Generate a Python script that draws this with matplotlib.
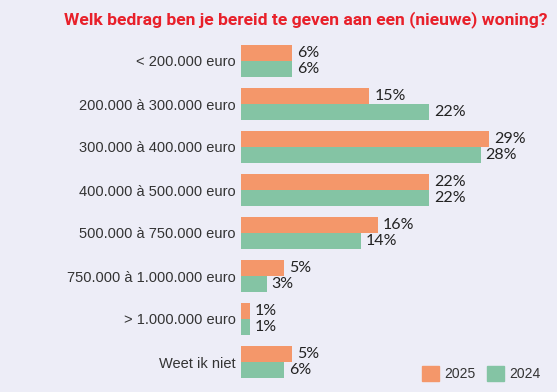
import matplotlib
matplotlib.use('Agg')
import matplotlib.pyplot as plt
from matplotlib import font_manager
from matplotlib.patches import Patch

# Data (bar lengths as drawn; labels as printed in the source chart)
categories = ['< 200.000 euro', '200.000 à 300.000 euro', '300.000 à 400.000 euro',
              '400.000 à 500.000 euro', '500.000 à 750.000 euro', '750.000 à 1.000.000 euro',
              '> 1.000.000 euro', 'Weet ik niet']
values_2025 = [6, 15, 29, 22, 16, 5, 1, 6]
values_2024 = [6, 22, 28, 22, 14, 3, 1, 5]
labels_2025 = ['6%', '15%', '29%', '22%', '16%', '5%', '1%', '5%']
labels_2024 = ['6%', '22%', '28%', '22%', '14%', '3%', '1%', '6%']

bg = '#EDEDF7'
orange = '#F4976A'
green = '#84C4A4'

names = {f.name for f in font_manager.fontManager.ttflist}
title_font = 'Liberation Sans Narrow' if 'Liberation Sans Narrow' in names else 'Roboto'

fig = plt.figure(figsize=(5.57, 3.92), dpi=100, facecolor=bg)
ax = fig.add_axes([241 / 557, 1 - 383.5 / 392, 308 / 557, 344 / 392], facecolor=bg)

h = 0.37
y = list(range(len(categories)))
y_top = [i - h / 2 for i in y]
y_bot = [i + h / 2 for i in y]
b1 = ax.barh(y_top, values_2025, height=h, color=orange)
b2 = ax.barh(y_bot, values_2024, height=h, color=green)

for bars, labs in ((b1, labels_2025), (b2, labels_2024)):
    for bar, lab in zip(bars, labs):
        ax.annotate(lab, (bar.get_width(), bar.get_y() + bar.get_height() / 2),
                    xytext=(3.5, 0), textcoords='offset points', va='center', ha='left',
                    fontsize=11.5, color='#222222', family='Lato')

ax.set_xlim(0, 36)
ax.set_ylim(7.5, -0.5)
ax.set_yticks(y)
ax.set_yticklabels(categories, fontsize=10.5, color='#333333', family='Liberation Sans')
ax.tick_params(axis='y', length=0, pad=4)
ax.set_xticks([])
for s in ax.spines.values():
    s.set_visible(False)

fig.text(548 / 557, 1 - 20 / 392, 'Welk bedrag ben je bereid te geven aan een (nieuwe) woning?',
         ha='right', va='center', fontsize=12.6, fontweight='bold', color='#E8202A',
         family=title_font)

handles = [Patch(color=orange, label='2025'), Patch(color=green, label='2024')]
fig.legend(handles=handles, loc='lower right', bbox_to_anchor=(553 / 557, -2 / 392), ncol=2,
           frameon=False, handlelength=1.2, handleheight=1.3,
           columnspacing=0.8, handletextpad=0.4,
           prop={'family': 'Liberation Sans', 'size': 10},
           labelcolor='#333333')

fig.savefig('out.png', dpi=100, facecolor=bg)
